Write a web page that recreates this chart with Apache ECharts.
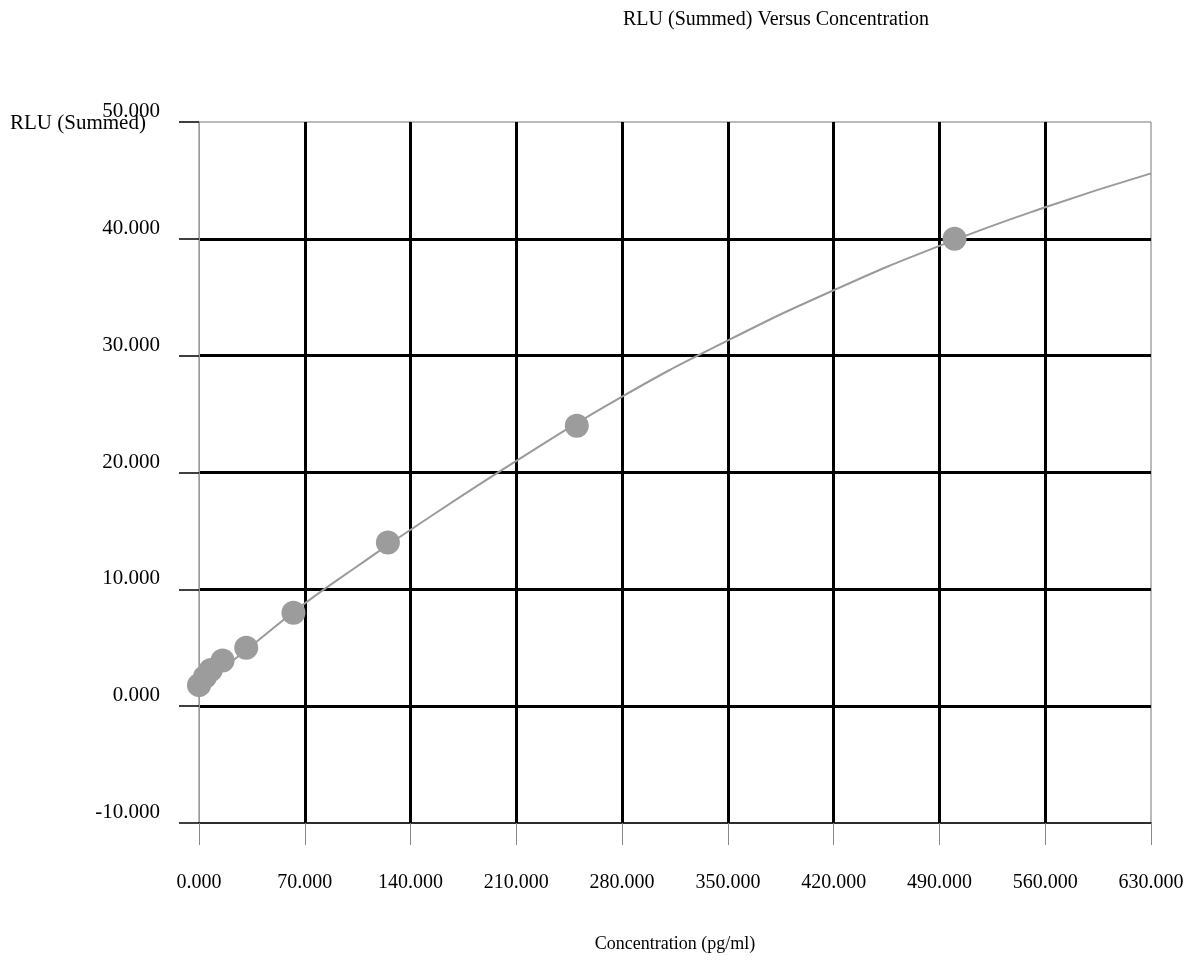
<!DOCTYPE html>
<html>
<head>
<meta charset="utf-8">
<script src="https://cdn.jsdelivr.net/npm/echarts@6/dist/echarts.min.js"></script>
<style>
  html, body { margin: 0; padding: 0; background: #fff; }
  #chart { width: 1196px; height: 967px; }
</style>
</head>
<body>
<div id="chart"></div>
<script>
// measured standards
var concentrations = [0, 3.9, 7.8, 15.6, 31.25, 62.5, 125, 250, 500];
var rluValues = [1.8, 2.5, 3.1, 3.9, 5.0, 8.0, 14.0, 24.0, 40.0];

// fitted curve
var curveX = [0, 35, 70, 105, 140, 210, 280, 350, 420, 490, 560, 630];
var curveY = [1.6, 5.2, 8.8, 12.0, 15.1, 21.0, 26.5, 31.3, 35.6, 39.4, 42.7, 45.6];

var font = "'Liberation Serif', 'Times New Roman', serif";

var chartDom = document.getElementById("chart");
var myChart = echarts.init(chartDom);

var option = {
  animation: false,
  textStyle: { fontFamily: font, color: "#000" },
  title: [
    {
      text: "RLU (Summed) Versus Concentration",
      left: 771,
      top: 5,
      textAlign: "center",
      textStyle: { fontFamily: font, fontSize: 20, fontWeight: "normal", color: "#000" },
    },
    {
      text: "RLU (Summed)",
      left: 5,
      top: 108,
      textStyle: { fontFamily: font, fontSize: 21, fontWeight: "normal", color: "#000" },
    },
  ],
  grid: {
    left: 199,
    right: 45,
    top: 122,
    bottom: 144,
    show: true,
    borderColor: "#777",
    borderWidth: 1,
  },
  xAxis: {
    type: "value",
    min: 0,
    max: 630,
    interval: 70,
    name: "Concentration (pg/ml)",
    nameLocation: "middle",
    nameGap: 112,
    nameTextStyle: { fontFamily: font, fontSize: 18, color: "#000" },
    axisLine: { show: true, onZero: false, lineStyle: { color: "#000", width: 1.5 } },
    axisTick: { show: true, length: 22, lineStyle: { color: "#888", width: 1 } },
    axisLabel: {
      margin: 50,
      fontFamily: font,
      fontSize: 20,
      color: "#000",
      formatter: function (v) { return v.toFixed(3); },
    },
    splitLine: {
      show: true,
      showMinLine: false,
      showMaxLine: false,
      lineStyle: { color: "#000", width: 3 },
    },
  },
  yAxis: {
    type: "value",
    min: -10,
    max: 50,
    interval: 10,
    axisLine: { show: true, onZero: false, lineStyle: { color: "#999", width: 1 } },
    axisTick: { show: true, length: 20, lineStyle: { color: "#000", width: 1.5 } },
    axisLabel: {
      margin: 39,
      fontFamily: font,
      fontSize: 21,
      color: "#000",
      verticalAlign: "bottom",
      formatter: function (v) { return v.toFixed(3); },
    },
    splitLine: {
      show: true,
      showMinLine: false,
      showMaxLine: false,
      lineStyle: { color: "#000", width: 3 },
    },
  },
  series: [
    {
      name: "Fit",
      type: "line",
      smooth: true,
      showSymbol: false,
      data: curveX.map(function (x, i) { return [x, curveY[i]]; }),
      lineStyle: { color: "#9a9a9a", width: 2 },
      z: 3,
    },
    {
      name: "Standards",
      type: "scatter",
      symbolSize: 24,
      data: concentrations.map(function (x, i) { return [x, rluValues[i]]; }),
      itemStyle: { color: "#9c9c9c", opacity: 1 },
      z: 4,
    },
  ],
};

myChart.setOption(option);
</script>
</body>
</html>
